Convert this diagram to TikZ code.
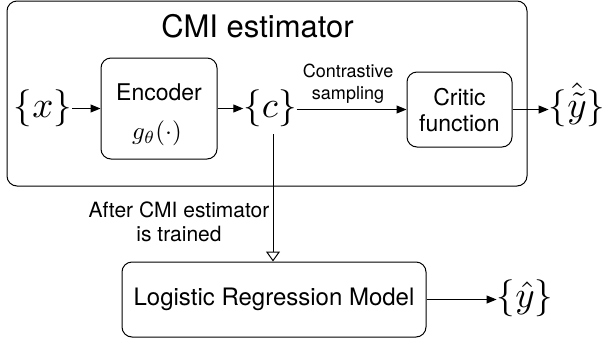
\documentclass[tikz,border=0pt]{standalone}
\usepackage{graphicx}
\usepackage{fontspec}
\setmainfont{TeX Gyre Heros}
\usetikzlibrary{arrows.meta}
\newcommand{\bigmath}[2]{\scalebox{#1}{\normalsize$#2$}}
\begin{document}
\begin{tikzpicture}[x=1pt,y=-1pt,
  box/.style={draw, rounded corners=10pt, line width=1pt, inner sep=0pt},
  lbl/.style={inner sep=0pt, align=center},
  arr/.style={line width=1pt, -{Triangle[length=10pt,width=8pt]}},
  openarr/.style={line width=1pt, -{Triangle[open,length=10pt,width=14pt]}},
  mathf/.style={inner sep=0pt, anchor=base},
  ]
\useasboundingbox (0,0) rectangle (608,346);
% boxes
\node[box, minimum width=520pt, minimum height=185pt] (est) at (267,93.5) {};
\node[lbl, font=\fontsize{31}{34}\selectfont] (title) at (257.5,26) {CMI estimator};
\node[box, minimum width=116pt, minimum height=101pt] (enc) at (159,108.5) {};
\node[lbl, font=\fontsize{23}{26}\selectfont] (enct) at (159,92) {Encoder};
\node[lbl] (encg) at (157,133) {\bigmath{2.5}{g_\theta(\cdot)}};
\node[box, minimum width=105pt, minimum height=75pt] (crit) at (459.5,109.5) {};
\node[lbl, font=\fontsize{23}{26}\selectfont] (critt) at (459.5,110) {Critic\\function};
\node[box, minimum width=304pt, minimum height=75pt, font=\fontsize{24}{28}\selectfont] (lr) at (274,299.5) {Logistic Regression Model};
% math nodes
\node[mathf] (x) at (43,117) {\bigmath{3.7}{\{x\}}};
\node[mathf] (c) at (270,117) {\bigmath{3.7}{\{c\}}};
\node[mathf] (yt) at (577,117) {\bigmath{3.7}{\{\hat{\tilde{y}}\}}};
\node[mathf] (yh) at (525,307) {\bigmath{3.7}{\{\hat{y}\}}};
% labels
\node[lbl, font=\fontsize{18}{22}\selectfont] (cs) at (348,84) {Contrastive\\sampling};
\node[lbl, font=\fontsize{21}{24}\selectfont] (at) at (179,222) {After CMI estimator\\is trained};
% connectors
\draw[arr] (x.east |- enc.center) -- (enc.west);
\draw[arr] (enc.east) -- (enc.east -| c.west);
\draw[arr] (c.east |- crit.center) -- (crit.west);
\draw[arr] (crit.east) -- (crit.east -| yt.west);
\draw[arr] (lr.east) -- (lr.east -| yh.west);
\coordinate (cdown) at ([xshift=3pt,yshift=-8pt]c.south);
\draw[openarr] (cdown) -- (cdown |- lr.north);
\end{tikzpicture}
\end{document}
